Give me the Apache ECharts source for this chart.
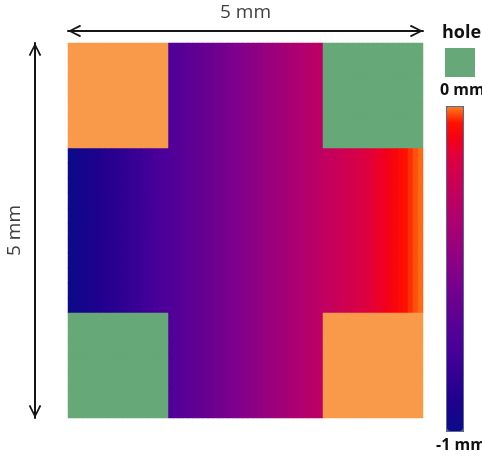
<!DOCTYPE html>
<html><head><meta charset="utf-8">
<script src="https://cdn.jsdelivr.net/npm/echarts@6/dist/echarts.min.js"></script>
<style>html,body{margin:0;padding:0;background:#fff}#c{width:482px;height:458px}</style>
</head><body><div id="c"></div><script>
// Depth (mm) across the cross, read column by column from left (x=0 mm) to right (x=5 mm)
const depthAlongX = [
  -0.99, -0.98, -0.96, -0.95, -0.94, -0.92, -0.91, -0.89, -0.88, -0.87,
  -0.85, -0.84, -0.82, -0.81, -0.80, -0.78, -0.77, -0.75, -0.74, -0.73,
  -0.71, -0.70, -0.68, -0.67, -0.65, -0.64, -0.63, -0.61, -0.60, -0.58,
  -0.57, -0.56, -0.54, -0.53, -0.51, -0.50, -0.49, -0.47, -0.46, -0.44,
  -0.43, -0.42, -0.40, -0.39, -0.37, -0.36, -0.35, -0.33, -0.32, -0.30,
  -0.29, -0.27, -0.26, -0.25, -0.23, -0.22, -0.20, -0.19, -0.18, -0.16,
  -0.15, -0.13, -0.12, -0.11, -0.09, -0.08, -0.065, -0.05, -0.035, -0.02,
  -0.008
];
const rowCount = 25;
const cornerCols = 20;
const cornerRows = 7;
const cornerKinds = { topLeft: 'pad', topRight: 'hole', bottomLeft: 'hole', bottomRight: 'pad' };
const padDepth = 0;
const depthRange = [-1, 0];
const depthLabels = ['0 mm', '-1 mm'];
const sizeLabel = '5 mm';
const holeLabel = 'hole';
const depthColors = [
  '#0c0a8a', '#16058c', '#22008f', '#2e0092', '#3a0096', '#480099', '#520098',
  '#5e0094', '#6a0090', '#78008e', '#860088', '#94007f', '#a20078', '#ae0070',
  '#ba0066', '#c6005a', '#d2004c', '#e0003c', '#f40018', '#ff1000', '#ff7a18'
];
const holeColor = '#66a877';
const padColor = '#f99a4b';

const xCats = depthAlongX.map((_, i) => String(i));
const yCats = Array.from({ length: rowCount }, (_, i) => String(i));

const depthData = [], holeData = [], padData = [];
for (let r = 0; r < rowCount; r++) {
  for (let c = 0; c < xCats.length; c++) {
    const left = c < cornerCols, right = c >= xCats.length - cornerCols;
    const bottom = r < cornerRows, top = r >= rowCount - cornerRows;
    let kind = null;
    if (top && left) kind = cornerKinds.topLeft;
    else if (top && right) kind = cornerKinds.topRight;
    else if (bottom && left) kind = cornerKinds.bottomLeft;
    else if (bottom && right) kind = cornerKinds.bottomRight;
    if (kind === 'hole') holeData.push([c, r, 0]);
    else if (kind === 'pad') padData.push([c, r, padDepth]);
    else depthData.push([c, r, depthAlongX[c]]);
  }
}

const chev = 'path://M6,0 L12,11.6 L10.4,12.4 L6,3.4 L1.6,12.4 L0,11.6 Z';
const axisCommon = {
  type: 'category',
  axisTick: { show: false },
  axisLabel: { show: false },
  splitLine: { show: false },
  axisLine: {
    show: true,
    lineStyle: { color: '#151515', width: 2 },
    symbol: [chev, chev],
    symbolSize: [13, 13],
    symbolOffset: [6.5, -6.5]
  },
  name: sizeLabel,
  nameLocation: 'middle',
  nameTextStyle: { fontSize: 19, color: '#404040', fontFamily: 'Open Sans' }
};

const chart = echarts.init(document.getElementById('c'), null, { renderer: 'canvas' });
chart.setOption({
  animation: false,
  backgroundColor: '#fff',
  grid: { left: 68, top: 43, width: 355, height: 375, show: false, containLabel: false, outerBoundsMode: 'none' },
  xAxis: Object.assign({}, axisCommon, { data: xCats, position: 'top', offset: 12, nameGap: 9 }),
  yAxis: Object.assign({}, axisCommon, { data: yCats, position: 'left', offset: 33, nameGap: 11 }),
  visualMap: {
    type: 'continuous',
    min: depthRange[0], max: depthRange[1],
    seriesIndex: 0,
    calculable: false,
    orient: 'vertical',
    left: 446, top: 106,
    itemWidth: 16, itemHeight: 324,
    padding: 0,
    borderColor: '#5b6a8f', borderWidth: 2,
    inRange: { color: depthColors }
  },
  legend: {
    data: [holeLabel],
    left: 445, top: 48,
    padding: 0,
    icon: 'rect',
    itemWidth: 30, itemHeight: 29,
    formatter: () => '',
    selectedMode: false
  },
  graphic: [
    { type: 'text', left: 442, top: 24, style: { text: holeLabel, font: 'bold 18px "Open Sans"', fill: '#111' } },
    { type: 'text', left: 440, top: 82, style: { text: depthLabels[0], font: 'bold 16px "Open Sans"', fill: '#111' } },
    { type: 'text', left: 436, top: 437, style: { text: depthLabels[1], font: 'bold 16px "Open Sans"', fill: '#111' } }
  ],
  series: [
    { name: 'depth', type: 'heatmap', data: depthData, progressive: 0, itemStyle: { borderWidth: 0 }, emphasis: { disabled: true } },
    { name: holeLabel, type: 'heatmap', data: holeData, progressive: 0, itemStyle: { color: holeColor, borderWidth: 0 }, emphasis: { disabled: true } },
    { name: '0 mm pad', type: 'heatmap', data: padData, progressive: 0, itemStyle: { color: padColor, borderWidth: 0 }, emphasis: { disabled: true } }
  ]
});
</script></body></html>
